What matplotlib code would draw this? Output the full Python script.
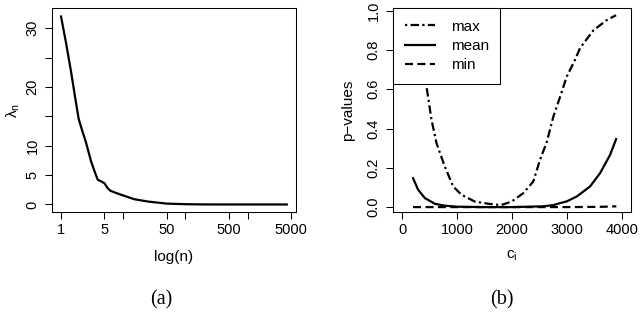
import matplotlib
matplotlib.use('Agg')
import matplotlib.pyplot as plt
from matplotlib.lines import Line2D

# ---- data: panel (a) ----
n_vals = [1, 1.2, 1.45, 1.7, 1.92, 2.2, 2.5, 3.05, 3.5, 3.9, 4.4, 5.0, 5.6, 6.2, 7.5, 9.3,
          15, 25, 50, 100, 200, 500, 4260]
lambda_vals = [32.0, 27.6, 22.6, 18.0, 14.6, 12.5, 10.7, 7.3, 5.5, 4.2, 3.95, 3.6, 2.8, 2.35,
               2.0, 1.65, 0.9, 0.5, 0.15, 0.05, 0.01, 0.0, 0.0]
a_xticks = [1, 5, 10, 50, 100, 500, 1000, 5000]
a_xticklabels = ['1', '5', '', '50', '', '500', '', '5000']
a_yticks = [0, 5, 10, 15, 20, 25, 30]
a_yticklabels = ['0', '5', '10', '', '20', '', '30']

# ---- data: panel (b) ----
c_max = [200, 300, 380, 445, 536, 627, 778, 930, 1083, 1325, 1568, 1800, 1994,
         2206, 2388, 2510, 2633, 2753, 2875, 2997, 3149, 3240, 3483, 3726, 3896]
p_max = [0.98, 0.85, 0.72, 0.613, 0.444, 0.325, 0.206, 0.105, 0.0625, 0.028, 0.017,
         0.01, 0.028, 0.071, 0.13, 0.24, 0.33, 0.46, 0.56, 0.664, 0.75, 0.81,
         0.90, 0.952, 0.977]
c_mean = [200, 292, 414, 596, 778, 1000, 1500, 2000, 2571, 2753, 2875, 2997,
          3180, 3422, 3605, 3787, 3896]
p_mean = [0.147, 0.088, 0.046, 0.017, 0.007, 0.002, 0.0, 0.0, 0.004, 0.01, 0.02,
          0.029, 0.054, 0.105, 0.173, 0.266, 0.346]
c_min = [200, 1000, 2000, 3000, 3500, 3700, 3900]
p_min = [0.0, 0.0, 0.0, 0.0, 0.001, 0.002, 0.004]
b_xticks = [0, 1000, 2000, 3000, 4000]
b_yticks = [0.0, 0.2, 0.4, 0.6, 0.8, 1.0]
b_yticklabels = ['0.0', '0.2', '0.4', '0.6', '0.8', '1.0']
legend_labels = ['max', 'mean', 'min']

plt.rcParams['font.family'] = ['Liberation Sans', 'DejaVu Sans']
plt.rcParams['axes.unicode_minus'] = True

W, H = 640, 313
fig = plt.figure(figsize=(6.4, 3.13), dpi=100)

def px_axes(l, r, t, b):
    return fig.add_axes([l / W, 1 - b / H, (r - l) / W, (b - t) / H])

TICK_FS = 10.5
LAB_FS = 11
LW = 1.6
dotdash = (0, (1, 1.5, 3.8, 1.5))
dashed = (0, (3.6, 2.0))

def style(ax):
    for s in ax.spines.values():
        s.set_linewidth(0.75)
        s.set_color('black')
    ax.tick_params(axis='both', which='major', direction='out', length=5,
                   width=0.75, labelsize=TICK_FS, color='black')
    ax.tick_params(axis='x', pad=3)
    ax.tick_params(axis='y', pad=4)
    ax.tick_params(which='minor', length=0)
    for lab in ax.get_yticklabels():
        lab.set_rotation(90)
        lab.set_va('center')

# ---- panel (a) ----
axa = px_axes(52, 295.8, 8.3, 212)
axa.plot(n_vals, lambda_vals, color='black', lw=LW, solid_joinstyle='round')
axa.set_xscale('log')
axa.set_xlim(0.716, 5957)
axa.set_ylim(-1.28, 33.4)
axa.set_xticks(a_xticks)
axa.set_xticklabels(a_xticklabels)
axa.xaxis.set_minor_locator(matplotlib.ticker.NullLocator())
axa.set_yticks(a_yticks)
axa.set_yticklabels(a_yticklabels)
style(axa)
axa.set_xlabel('log(n)', fontsize=LAB_FS)
axa.xaxis.set_label_coords(0.5, -0.219)
axa.xaxis.label.set_va('center')
axa.set_ylabel(r'$\mathregular{\lambda_n}$', fontsize=LAB_FS)
axa.yaxis.set_label_coords(-0.159, 0.5)
axa.yaxis.label.set_va('center')

# ---- panel (b) ----
axb = px_axes(393.3, 630.6, 8.3, 212)
axb.plot(c_max, p_max, color='black', lw=LW, linestyle=dotdash)
axb.plot(c_mean, p_mean, color='black', lw=LW, linestyle='-')
axb.plot(c_min, p_min, color='black', lw=LW, linestyle=dashed)
axb.set_xlim(-160, 4160)
axb.set_ylim(-0.025, 1.012)
axb.set_xticks(b_xticks)
axb.set_yticks(b_yticks)
axb.set_yticklabels(b_yticklabels)
style(axb)
axb.set_xlabel(r'$\mathregular{c_i}$', fontsize=LAB_FS)
axb.xaxis.set_label_coords(0.5, -0.216)
axb.xaxis.label.set_va('center')
axb.set_ylabel('p\u2212values', fontsize=LAB_FS)
axb.yaxis.set_label_coords(-0.19, 0.5)
axb.yaxis.label.set_va('center')

handles = [Line2D([], [], color='black', lw=LW, linestyle=dotdash),
           Line2D([], [], color='black', lw=LW, linestyle='-'),
           Line2D([], [], color='black', lw=LW, linestyle=dashed)]
leg = axb.legend(handles, legend_labels, loc='upper left', borderaxespad=0,
                 fancybox=False, framealpha=1, edgecolor='black',
                 fontsize=LAB_FS, handlelength=2.0, handletextpad=1.0,
                 labelspacing=0.35, borderpad=0.75)
leg.get_frame().set_linewidth(0.75)

# ---- captions ----
fig.text(161.7 / W, 1 - 300 / H, '(a)', ha='center', va='center',
         fontsize=14.5, family=['Liberation Serif', 'DejaVu Serif'])
fig.text(502 / W, 1 - 300 / H, '(b)', ha='center', va='center',
         fontsize=14.5, family=['Liberation Serif', 'DejaVu Serif'])

fig.savefig('out.png', dpi=100)
